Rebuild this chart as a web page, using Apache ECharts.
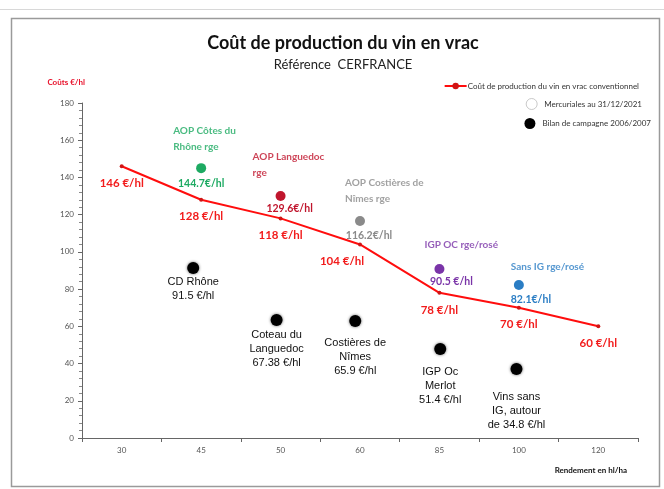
<!DOCTYPE html>
<html>
<head>
<meta charset="utf-8">
<title>Coût de production du vin en vrac</title>
<script src="https://cdn.jsdelivr.net/npm/echarts@6/dist/echarts.min.js"></script>
<style>
  html, body { margin: 0; padding: 0; background: #fff; }
  #chart { width: 664px; height: 489px; }
</style>
</head>
<body>
<div id="chart"></div>
<script>
// rendement (hl/ha)
const categories = ['30', '45', '50', '60', '85', '100', '120'];

// coût de production conventionnel
const coutValues = [146, 128, 118, 104, 78, 70, 60];

// mercuriales au 31/12/2021
const mercCats = ['45', '50', '60', '85', '100'];
const mercValues = [145, 130, 116.6, 90.8, 82.2];
const mercNames = ['AOP Côtes du\nRhône rge', 'AOP Languedoc\nrge', 'AOP Costières de\nNîmes rge', 'IGP OC rge/rosé', 'Sans IG rge/rosé'];
const mercLabels = ['144.7€/hl', '129.6€/hl', '116.2€/hl', '90.5 €/hl', '82.1€/hl'];
const mercColors = ['#1daa62', '#c0152d', '#8a8a8a', '#7a34a8', '#2a7dc4'];

// bilan de campagne 2006/2007 (position x en index de catégorie)
const bilanPos = [0.9, 1.95, 2.94, 4.01, 4.97];
const bilanValues = [91.3, 63.4, 62.9, 47.8, 37.1];
const bilanLabels = ['CD Rhône\n91.5 €/hl', 'Coteau du\nLanguedoc\n67.38 €/hl', 'Costières de\nNîmes\n65.9 €/hl', 'IGP Oc\nMerlot\n51.4 €/hl', 'Vins sans\nIG, autour\nde 34.8 €/hl'];

const yTicks = { min: 0, max: 180, interval: 20 };

const chart = echarts.init(document.getElementById('chart'));

// décalages des étiquettes, au cas par cas
const coutOffsets = [[0, 0], [0, 0], [0, 0], [-18, 0], [0, 0], [0, 0], [0, 0]];
const mercNameOffsets = [[-28, -8], [-28, -10], [-15, -9], [-15, -11], [-8, -5]];
const mercValOffsets = [[0, 2], [9, -1], [9, 1], [12, -1], [12, 1]];
const bilanOffsets = [[0, -2], [0, -1], [0, 6], [0, 7], [0, 12]];

const option = {
  backgroundColor: '#fff',
  animation: false,
  title: {
    text: 'Coût de production du vin en vrac',
    subtext: 'Référence  CERFRANCE',
    left: 338,
    top: 29,
    textAlign: 'center',
    itemGap: 6,
    textStyle: { fontFamily: 'Lato', fontSize: 18, fontWeight: 'bold', color: '#111' },
    subtextStyle: { fontFamily: 'Lato', fontSize: 13, color: '#222' }
  },
  legend: [
    {
      right: 20, top: 77, itemWidth: 22, itemHeight: 8, itemGap: 4,
      textStyle: { fontFamily: 'Lato', fontSize: 8, color: '#333', padding: [0, 0, 0, -4] },
      data: ['Coût de production du vin en vrac conventionnel']
    },
    {
      right: 17, top: 93, itemWidth: 11, itemHeight: 11,
      textStyle: { fontFamily: 'Lato', fontSize: 8, color: '#333', padding: [0, 0, 0, 2] },
      data: [{ name: 'Mercuriales au 31/12/2021', icon: 'circle',
        itemStyle: { color: '#fff', borderColor: '#bbb', borderWidth: 1 } }]
    },
    {
      right: 8, top: 113, itemWidth: 11, itemHeight: 11,
      textStyle: { fontFamily: 'Lato', fontSize: 8, color: '#333', padding: [0, 0, 0, 2] },
      data: [{ name: 'Bilan de campagne 2006/2007', icon: 'circle',
        itemStyle: { color: '#000' } }]
    }
  ],
  grid: { left: 82, right: 26, top: 103, bottom: 51 },
  xAxis: [
    {
      type: 'category',
      data: categories,
      boundaryGap: true,
      name: 'Rendement en hl/ha',
      nameLocation: 'end',
      nameGap: -11,
      nameTextStyle: {
        fontFamily: 'Lato', fontSize: 8, fontWeight: 'bold', color: '#111',
        align: 'right', verticalAlign: 'top', padding: [28, 0, 0, 0]
      },
      axisLine: { lineStyle: { color: '#666', width: 1 } },
      axisTick: { show: true, length: 4, lineStyle: { color: '#666' } },
      axisLabel: { fontFamily: 'Lato', fontSize: 8, color: '#555', margin: 8 },
      splitLine: { show: false }
    },
    {
      type: 'value',
      min: -0.5,
      max: 6.5,
      show: false
    }
  ],
  yAxis: {
    type: 'value',
    min: yTicks.min,
    max: yTicks.max,
    interval: yTicks.interval,
    name: 'Coûts €/hl',
    nameLocation: 'end',
    nameGap: 17,
    nameTextStyle: {
      fontFamily: 'Lato', fontSize: 8, fontWeight: 'bold', color: '#e8102a',
      align: 'right', padding: [0, -3, 0, 0]
    },
    axisLine: { show: true, onZero: false, lineStyle: { color: '#666', width: 1 } },
    axisTick: { show: true, length: 4, lineStyle: { color: '#666' } },
    minorTick: { show: true, splitNumber: 5, length: 3, lineStyle: { color: '#888' } },
    axisLabel: { fontFamily: 'Lato', fontSize: 8, color: '#555', margin: 8 },
    splitLine: { show: false }
  },
  series: [
    {
      name: 'Coût de production du vin en vrac conventionnel',
      type: 'line',
      data: coutValues.map((v, i) => ({
        value: v,
        label: { offset: coutOffsets[i] }
      })),
      symbol: 'circle',
      symbolSize: 4,
      lineStyle: { color: '#ff0d0d', width: 2 },
      itemStyle: { color: '#d01515' },
      label: {
        show: true,
        position: 'bottom',
        distance: 9,
        formatter: '{c} €/hl',
        fontFamily: 'Lato', fontSize: 11.5, fontWeight: 'bold', color: '#f21c1c'
      },
      z: 3
    },
    {
      name: 'Mercuriales au 31/12/2021',
      type: 'scatter',
      symbolSize: 10,
      data: mercCats.map((c, i) => ({
        value: [c, mercValues[i]],
        itemStyle: { color: mercColors[i], opacity: 1 },
        label: { formatter: mercLabels[i], color: mercColors[i], offset: mercValOffsets[i] }
      })),
      label: {
        show: true,
        position: 'bottom',
        distance: 3,
        fontFamily: 'Lato', fontSize: 10.5, fontWeight: 'bold'
      },
      z: 4
    },
    {
      // noms des mercuriales, au-dessus des points
      name: 'noms',
      type: 'scatter',
      symbolSize: 0,
      silent: true,
      data: mercCats.map((c, i) => ({
        value: [c, mercValues[i]],
        label: { formatter: mercNames[i], color: mercColors[i], offset: mercNameOffsets[i] }
      })),
      label: {
        show: true,
        position: 'top',
        align: 'left',
        lineHeight: 16,
        fontFamily: 'Lato', fontSize: 10, fontWeight: 'bold'
      },
      z: 4
    },
    {
      name: 'Bilan de campagne 2006/2007',
      type: 'scatter',
      xAxisIndex: 1,
      symbolSize: 12,
      data: bilanPos.map((x, i) => ({
        value: [x, bilanValues[i]],
        label: { formatter: bilanLabels[i], offset: bilanOffsets[i] }
      })),
      itemStyle: { color: '#000', opacity: 1, shadowBlur: 3, shadowColor: 'rgba(0,0,0,0.6)' },
      label: {
        show: true,
        position: 'bottom',
        distance: 3,
        lineHeight: 14,
        fontFamily: 'Liberation Sans', fontSize: 11, color: '#111'
      },
      z: 4
    }
  ],
  graphic: [
    { type: 'line', shape: { x1: 0, y1: 9.5, x2: 664, y2: 9.5 }, style: { stroke: '#d8d8d8', lineWidth: 1 }, silent: true },
    { type: 'rect', shape: { x: 11.5, y: 18.5, width: 648, height: 468 }, style: { fill: 'none', stroke: '#9a9a9a', lineWidth: 1.5 }, silent: true }
  ]
};

chart.setOption(option);
</script>
</body>
</html>
